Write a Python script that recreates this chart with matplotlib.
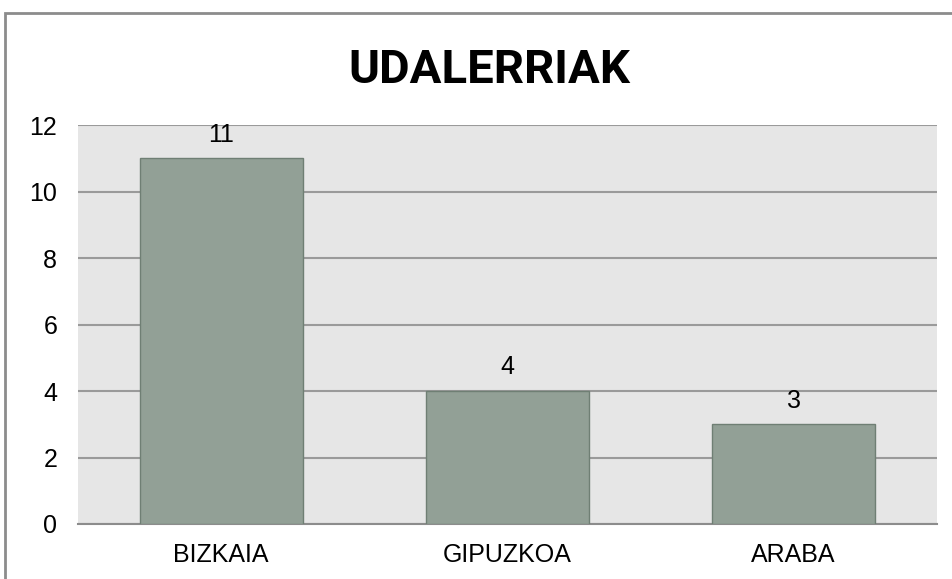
import matplotlib.pyplot as plt
from matplotlib.patches import Rectangle

# data
provinces = ['BIZKAIA', 'GIPUZKOA', 'ARABA']
towns = [11, 4, 3]
yticks = [0, 2, 4, 6, 8, 10, 12]

fig = plt.figure(figsize=(9.52, 5.79), dpi=100)
ax = fig.add_axes([0.082, 0.095, 0.902, 0.689])

# outer frame of the chart (runs off the right/bottom edge)
fig.patches.append(Rectangle((5 / 952, -0.1), 1.2, 1.1 - 13 / 579,
                             transform=fig.transFigure, fill=False,
                             edgecolor='#8c8c8c', linewidth=2, zorder=10))

ax.set_facecolor('#e6e6e6')
x = range(len(provinces))
bars = ax.bar(x, towns, width=0.57, color='#92a096', edgecolor='#6f7f74',
              linewidth=1, zorder=3)

for b, v in zip(bars, towns):
    ax.annotate(str(v), (b.get_x() + b.get_width() / 2, v),
                xytext=(0, 12), textcoords='offset points',
                ha='center', va='baseline', fontsize=18,
                family='Liberation Sans')

ax.set_xlim(-0.5, len(provinces) - 0.5)
ax.set_ylim(0, 12)
ax.set_yticks(yticks)
ax.set_xticks(list(x))
ax.set_xticklabels(provinces)
ax.yaxis.grid(True, color='#9a9a9a', linewidth=1.5, zorder=0)
ax.set_axisbelow(True)
ax.tick_params(length=0, labelsize=18, pad=15)
ax.tick_params(axis='x', pad=14)
for lab in ax.get_xticklabels() + ax.get_yticklabels():
    lab.set_family('Liberation Sans')

for s in ['top', 'right', 'left']:
    ax.spines[s].set_visible(False)
ax.spines['bottom'].set_color('#8c8c8c')
ax.spines['bottom'].set_linewidth(1.5)

fig.text(0.514, 1 - 83 / 579, 'UDALERRIAK', ha='center', va='baseline',
         fontsize=34, fontweight='bold', family=['Roboto', 'DejaVu Sans'])

fig.savefig('out.png', dpi=100)
